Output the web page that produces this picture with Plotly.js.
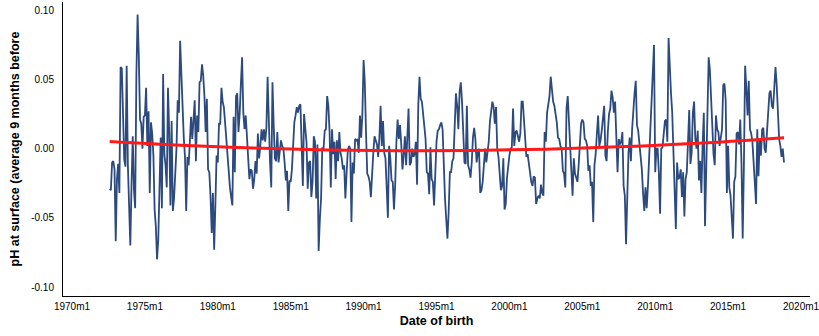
<!DOCTYPE html>
<html>
<head>
<meta charset="utf-8">
<script src="https://cdn.plot.ly/plotly-3.0.1.min.js"></script>
<style>
  html, body { margin: 0; padding: 0; background: #ffffff; }
  #chart { width: 819px; height: 336px; }
</style>
</head>
<body>
<div id="chart"></div>
<script>
// Surface pH anomaly, averaged over the 9 months before each birth month.
// Monthly series, first observation 1972m8.
const firstYear = 1972;
const firstMonth = 8;

const ph1970s = [ // 1972m8 - 1979m12
  -0.029, -0.030, -0.010, -0.009, -0.015,
  -0.067, -0.022, -0.011, -0.032, 0.059, 0.058, 0.026, -0.008, -0.013, 0.060, -0.012, -0.035,
  -0.070, -0.026, 0.009, -0.030, -0.043, 0.054, 0.097, 0.066, 0.021, 0.018, 0.000, 0.023,
  0.024, 0.044, 0.002, 0.027, -0.032, 0.019, 0.011, -0.005, -0.044, -0.056, -0.080, -0.066,
  -0.015, 0.008, -0.043, 0.054, -0.004, -0.012, -0.028, 0.044,
  0.012, -0.041, 0.020, -0.045, -0.036, -0.022, 0.000, 0.035, 0.026, 0.078,
  0.049, 0.026, 0.008, -0.006, -0.045, -0.006, -0.012, 0.005, 0.023, 0.007,
  0.021, 0.035, -0.009, 0.024, 0.012, 0.048, 0.049, 0.061, 0.053, 0.038,
  0.012, 0.036, -0.015, -0.017, -0.034, -0.061, -0.032, -0.073, -0.041, -0.005
];

const ph1980s = [ // 1980m1 - 1989m12
  -0.010, 0.018, 0.018, 0.044, 0.034, 0.030, 0.019, 0.007, -0.007, -0.018, -0.028, -0.035, -0.041,
  0.023, -0.017, 0.038, 0.040, 0.012, 0.025, 0.047, 0.066, 0.026, 0.014, 0.024, 0.006,
  -0.007, -0.022, -0.015, -0.016, -0.029, -0.022, -0.009, -0.018, 0.011, -0.007, 0.002, 0.014,
  0.006, 0.014, 0.005, 0.015, 0.052, 0.014, -0.010, -0.028, 0.048, 0.017, -0.007, -0.009,
  0.012, -0.010, 0.000, 0.006,
  0.002, 0.000, -0.010, -0.023, -0.016, -0.045, -0.023, -0.024, -0.015, 0.007, 0.019, 0.024, 0.030, 0.026,
  0.031, 0.032, 0.007, -0.027, 0.025, 0.017, 0.005, -0.029, -0.010, -0.009, -0.035, -0.024,
  0.009, 0.005, -0.036, 0.003, -0.074, -0.051, -0.036, 0.001, -0.001, 0.013, 0.014, 0.038,
  0.031, 0.012, -0.028, 0.014, -0.004, 0.005, -0.022, 0.006, -0.009, 0.012, -0.003, -0.007,
  -0.015, -0.012, -0.036, -0.018, -0.001, 0.002, 0.000, -0.053, -0.010, -0.018, 0.007, 0.006,
  0.007, -0.003, 0.024, 0.008, 0.025
];

const ph1990s = [ // 1990m1 - 1999m12
  0.064,
  0.048, 0.011, -0.018, -0.020, -0.024, -0.035, -0.015, -0.003, 0.009, 0.006,
  0.003, -0.006, 0.008, 0.031, 0.002, 0.020, -0.003, -0.007, -0.035, -0.050,
  0.002, -0.007, -0.023, -0.024, -0.044, -0.026, 0.005, 0.021, 0.007, 0.017,
  0.003, -0.015, -0.005, 0.009, -0.012, 0.017, 0.029, -0.012, -0.010, 0.000,
  -0.006, -0.004, 0.005, -0.026, 0.031, 0.052, 0.036, 0.034, 0.026, 0.019,
  0.007, -0.017, -0.018, -0.033,
  0.001, -0.022, -0.024, -0.041, -0.014, 0.005, 0.013, 0.014, 0.017, 0.019,
  0.014, -0.017, -0.036, -0.051, -0.065, -0.046, -0.017, -0.017, -0.009, -0.007,
  0.026, 0.040, 0.031, 0.014, 0.041, 0.048, 0.034, 0.009, -0.010, -0.011,
  0.031, -0.012, -0.015, -0.021, -0.010, 0.008, 0.015, 0.007, -0.010, -0.003,
  0.000, -0.032, -0.030, -0.024, -0.009, 0.000, -0.010, -0.003, 0.005, 0.020,
  0.029, 0.034,
  0.030, 0.018, 0.030, 0.000, -0.006, -0.016, -0.030, -0.027, -0.007, -0.044, -0.040, -0.021, -0.012
];

const ph2000s = [ // 2000m1 - 2009m12
  -0.005, 0.000, 0.001, 0.029, 0.002, 0.012, 0.013, 0.009, 0.005, 0.011,
  0.034, 0.034, 0.019, 0.007, -0.006, -0.004, -0.012, -0.020, -0.024, -0.027,
  -0.020, -0.021, -0.040, -0.036, -0.034, -0.036, -0.026, -0.032, -0.034, 0.012,
  0.005, 0.026, 0.034, 0.038, 0.052, 0.042, 0.034, 0.031, 0.026, 0.019,
  0.008, 0.007,
  0.002, 0.000, -0.016, -0.018, -0.028, 0.029, 0.038, 0.018, 0.000, -0.024,
  -0.034, -0.007, -0.018, -0.021, -0.024, -0.012, 0.006, 0.018, 0.021, 0.019,
  0.007, 0.006, 0.002, -0.016, -0.012, -0.027, -0.024, -0.053, -0.012, -0.004,
  0.011, 0.024, 0.002, 0.006, 0.013, 0.023, 0.031, -0.005, -0.009, 0.012,
  0.025, 0.029, 0.042, 0.037, 0.026, 0.034, 0.012, -0.017, 0.007, 0.003,
  0.005, 0.012, -0.027,
  -0.034, -0.069, -0.035, -0.003, 0.008, -0.009, 0.014, 0.031, 0.040, 0.049,
  0.017, 0.013, 0.005, -0.003, -0.015, -0.032, -0.045, -0.028, -0.043, -0.027,
  -0.005, 0.009, 0.031, 0.055, 0.075
];

const ph2010s = [ // 2010m1 - 2018m11
  -0.017, 0.000, 0.000, -0.017, -0.047, 0.000, 0.001, 0.012, 0.020, 0.021,
  0.005, 0.080, 0.053, 0.040, 0.026, -0.005, -0.020, -0.058, -0.010, -0.022,
  -0.021, -0.015, -0.035, -0.017, -0.049, -0.022, -0.017, 0.014, 0.028,
  -0.011, -0.003, 0.026, 0.034, 0.007, 0.000, 0.013, -0.023, -0.009, -0.032,
  0.002, 0.026, -0.056, -0.015, 0.034, 0.066, 0.057, 0.034, 0.012, -0.004,
  -0.012, 0.024, 0.014, 0.012, 0.002, 0.007, 0.014, 0.046, 0.047, 0.035,
  -0.032, 0.002, -0.028, -0.034, -0.053, -0.065, -0.024, -0.020, 0.011, 0.012,
  0.003, 0.021, -0.010, -0.065, -0.012, 0.060, 0.044, 0.024, 0.049, 0.014,
  0.011, 0.005, -0.010, -0.029,
  -0.040, 0.014, -0.020, 0.007, -0.005, 0.014, 0.015, 0.000, -0.003, 0.012,
  0.024, 0.040, 0.042, 0.031, 0.029, 0.043, 0.059, 0.046, 0.029, 0.007,
  0.002, -0.006, 0.000, -0.010
];

// Quadratic trend line, read at selected months (months since 1970m1)
const trendMonths = [31, 90, 150, 210, 270, 330, 390, 450, 510, 586];
const trendValues = [0.0051, 0.0024, 0.0004, -0.0009, -0.0015, -0.0013, -0.0004, 0.0013, 0.0037, 0.0078];

// Axis ticks
const xTickLabels = ['1970m1', '1975m1', '1980m1', '1985m1', '1990m1', '1995m1',
                     '2000m1', '2005m1', '2010m1', '2015m1', '2020m1'];
const yTickValues = [-0.10, -0.05, 0.00, 0.05, 0.10];
const yTickLabels = ['-0.10', '-0.05', '0.00', '0.05', '0.10'];

// Month index (0 = 1970m1) for a label such as "1985m1"
function monthIndex(label) {
  const [y, m] = label.split('m').map(Number);
  return (y - 1970) * 12 + (m - 1);
}

const phValues = [].concat(ph1970s, ph1980s, ph1990s, ph2000s, ph2010s);
const start = (firstYear - 1970) * 12 + (firstMonth - 1);
const phMonths = phValues.map((_, i) => start + i);

const FONT = 'Liberation Sans, Arial, Helvetica, sans-serif';

const traces = [
  {
    x: phMonths, y: phValues,
    type: 'scatter', mode: 'lines',
    line: { color: '#2c4a7e', width: 1.8 },
    hoverinfo: 'skip'
  },
  {
    x: trendMonths, y: trendValues,
    type: 'scatter', mode: 'lines',
    line: { color: '#ff1a1a', width: 3, shape: 'spline', smoothing: 1 },
    hoverinfo: 'skip'
  }
];

const layout = {
  width: 819, height: 336,
  margin: { l: 63, r: 9, t: 2, b: 40 },
  paper_bgcolor: '#ffffff', plot_bgcolor: '#ffffff',
  showlegend: false,
  font: { family: FONT, size: 10, color: '#000000' },
  xaxis: {
    range: [-7.4, 607.4],
    tickvals: xTickLabels.map(monthIndex),
    ticktext: xTickLabels,
    ticks: '',
    showline: true, linecolor: '#000000', linewidth: 1,
    showgrid: false, zeroline: false,
    ticklabelstandoff: 1,
    ticklabeloverflow: 'allow',
    tickfont: { family: FONT, size: 10, color: '#000000' },
    title: { text: '<b>Date of birth</b>', font: { family: FONT, size: 12.5, color: '#000000' }, standoff: 5 }
  },
  yaxis: {
    range: [-0.1065, 0.106],
    tickvals: yTickValues,
    ticktext: yTickLabels,
    ticks: '',
    showline: true, linecolor: '#000000', linewidth: 1,
    showgrid: false, zeroline: false,
    ticklabelstandoff: 6,
    tickfont: { family: FONT, size: 10, color: '#000000' },
    title: { text: '<b>pH at surface (average 9 months before</b>', font: { family: FONT, size: 12.5, color: '#000000' }, standoff: 8 }
  }
};

Plotly.newPlot('chart', traces, layout, { displayModeBar: false, staticPlot: true });
</script>
</body>
</html>
